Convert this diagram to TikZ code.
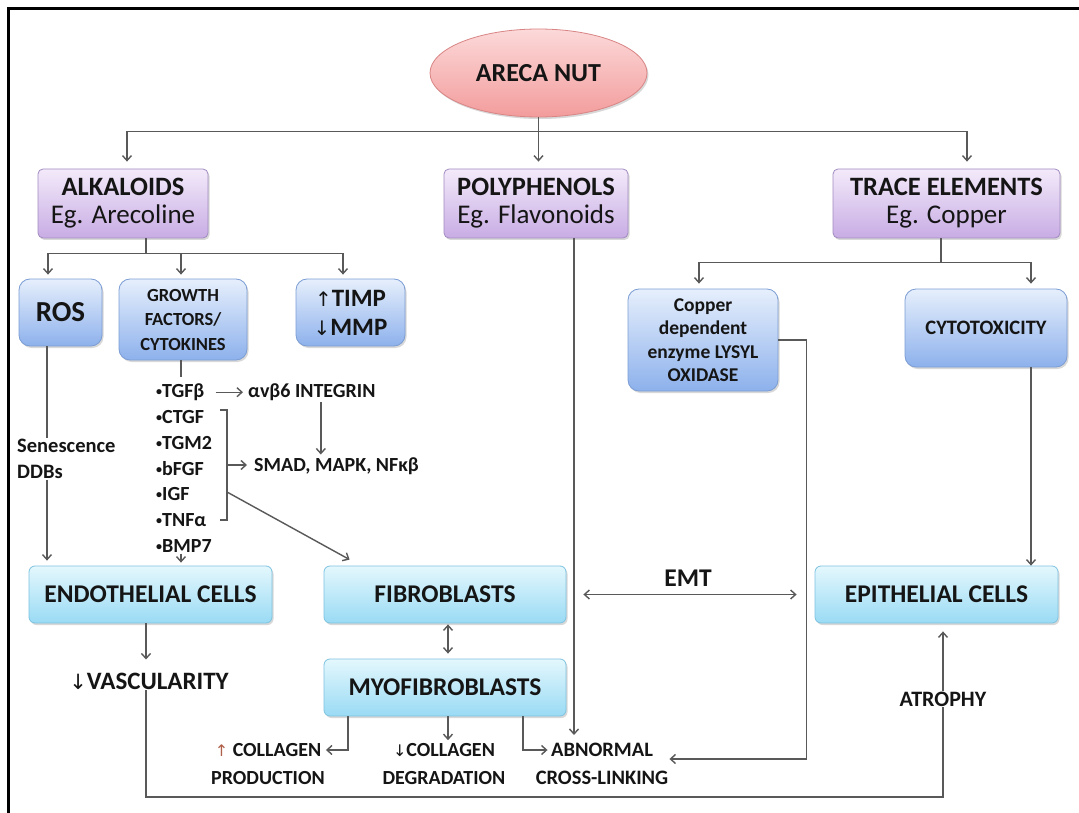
\documentclass[tikz,border=0pt]{standalone}
\usepackage{fontspec}
\setmainfont{Carlito}
\newfontfamily\arrowfont{DejaVu Sans}
\usetikzlibrary{arrows.meta,shapes.geometric,shadows,calc}
\newcommand{\fsz}[2]{\fontsize{#1}{#2}\selectfont}
\newcommand{\bul}{\raisebox{2pt}{\fsz{12}{20}•}}
\definecolor{linegray}{HTML}{595959}
\definecolor{textcol}{HTML}{151515}
\definecolor{nuttop}{HTML}{FCD9D9}
\definecolor{nutbot}{HTML}{F39C9C}
\definecolor{nutedge}{HTML}{D98585}
\definecolor{purpletop}{HTML}{F3EAFA}
\definecolor{purplebot}{HTML}{C8ACE4}
\definecolor{purpleedge}{HTML}{A28BC0}
\definecolor{bluetop}{HTML}{E6EFFC}
\definecolor{bluebot}{HTML}{8DB1EC}
\definecolor{blueedge}{HTML}{7C9DD4}
\definecolor{cyantop}{HTML}{E4F7FD}
\definecolor{cyanbot}{HTML}{99DBF4}
\definecolor{cyanedge}{HTML}{7FC3E0}
\definecolor{uparrowcol}{HTML}{B0604A}
\begin{document}
\begin{tikzpicture}[x=1pt,y=1pt,
  line/.style={draw=linegray, line width=1.4pt},
  arr/.style={line, -{Straight Barb[length=5pt,width=9pt]}},
  darr/.style={line, {Straight Barb[length=5pt,width=9pt]}-{Straight Barb[length=5pt,width=9pt]}},
  shade/.style={drop shadow={shadow xshift=1.5pt, shadow yshift=-2pt, opacity=0.25, fill=black!60}},
  purplebox/.style={shade, draw=purpleedge, line width=0.8pt, rounded corners=5pt,
    top color=purpletop, bottom color=purplebot, align=center, text=textcol, inner sep=0pt,
    font=\fsz{27}{28}},
  bluebox/.style={shade, draw=blueedge, line width=0.8pt, rounded corners=11pt,
    top color=bluetop, bottom color=bluebot, align=center, text=textcol, inner sep=0pt},
  cyanbox/.style={shade, draw=cyanedge, line width=0.8pt, rounded corners=6pt,
    top color=cyantop, bottom color=cyanbot, align=center, text=textcol, inner sep=0pt,
    font=\bfseries\fsz{25.5}{28}},
  lbl/.style={text=textcol, inner sep=1pt, align=center},
  item/.style={lbl, anchor=base west, font=\bfseries\fsz{20}{22}}
]
\useasboundingbox (0,0) rectangle (1079,-813);
\fill[white] (0,0) rectangle (1079,-813);
\draw[line width=3pt, black] (8,-813) -- (8,-9) -- (1079,-9);

% ---------- top level ----------
\node[ellipse, shade, draw=nutedge, line width=0.8pt, top color=nuttop, bottom color=nutbot,
  minimum width=217, minimum height=88, inner sep=0pt, font=\bfseries\fsz{26}{28}, text=textcol]
  (nut) at (538.5,-73) {ARECA NUT};
\node[purplebox, minimum width=170, minimum height=69] (alk) at (123,-203.5)
  {{\bfseries\fsz{26.5}{28}ALKALOIDS}\\Eg. Arecoline};
\node[purplebox, minimum width=184, minimum height=69] (poly) at (536,-203.5)
  {{\bfseries\fsz{26.5}{28}POLYPHENOLS}\\Eg. Flavonoids};
\node[purplebox, minimum width=227, minimum height=69] (trace) at (946.5,-203.5)
  {{\bfseries\fsz{26.5}{28}TRACE ELEMENTS}\\Eg. Copper};

% ---------- second level ----------
\node[bluebox, minimum width=83, minimum height=67, font=\bfseries\fsz{29}{28}] (ros) at (60.5,-312.5) {ROS};
\node[bluebox, minimum width=128, minimum height=81, font=\bfseries\fsz{18.5}{24.5}] (gf) at (183,-319.5)
  {GROWTH\\FACTORS/\\CYTOKINES};
\node[bluebox, minimum width=109, minimum height=67, font=\bfseries\fsz{25}{29}] (timp) at (350.5,-312.5)
  {{\arrowfont\mdseries\fsz{20}{29}↑}TIMP\\{\arrowfont\mdseries\fsz{20}{29}↓}MMP};
\node[bluebox, minimum width=150, minimum height=102, font=\bfseries\fsz{19.5}{23.5}] (lysyl) at (703,-340)
  {Copper\\dependent\\enzyme LYSYL\\OXIDASE};
\node[bluebox, minimum width=162, minimum height=78, font=\bfseries\fsz{20.5}{23}] (cyto) at (986,-328) {CYTOTOXICITY};

% ---------- cells ----------
\node[cyanbox, minimum width=243, minimum height=57] (endo) at (150.5,-594.5) {ENDOTHELIAL CELLS};
\node[cyanbox, minimum width=242, minimum height=57] (fibro) at (445,-594.5) {FIBROBLASTS};
\node[cyanbox, minimum width=243, minimum height=57] (epi) at (936.5,-594.5) {EPITHELIAL CELLS};
\node[cyanbox, minimum width=242, minimum height=57] (myo) at (445,-687.5) {MYOFIBROBLASTS};

% ---------- labels ----------
\node[lbl, anchor=west, align=left, font=\bfseries\fsz{20.5}{26}] (sen) at (16,-459) {Senescence\\DDBs};
\node[item] (l1) at (155,-397.5) {\bul TGFβ};
\node[item] (l2) at (155,-423.3) {\bul CTGF};
\node[item] (l3) at (155,-449.2) {\bul TGM2};
\node[item] (l4) at (155,-475.0) {\bul bFGF};
\node[item] (l5) at (155,-500.8) {\bul IGF};
\node[item] (l6) at (155,-526.7) {\bul TNFα};
\node[item] (l7) at (155,-552.5) {\bul BMP7};
\node[item] (integ) at (247,-397.5) {αvβ6 INTEGRIN};
\node[item] (smad) at (253,-471.5) {SMAD, MAPK, NFκβ};
\node[lbl, font=\bfseries\fsz{25}{28}] (vasc) at (149,-681) {{\arrowfont\mdseries\fsz{21}{28}↓}VASCULARITY};
\node[lbl, font=\bfseries\fsz{25.5}{28}] (emt) at (688,-578) {EMT};
\node[lbl, font=\bfseries\fsz{22}{26}] (atro) at (943,-699) {ATROPHY};
\node[lbl, font=\bfseries\fsz{20}{28}] (coll) at (268,-764)
  {{\arrowfont\mdseries\color{uparrowcol}\fsz{16}{28}↑} COLLAGEN\\PRODUCTION};
\node[lbl, font=\bfseries\fsz{20}{28}] (degr) at (444,-764)
  {{\arrowfont\mdseries\fsz{16}{28}↓}COLLAGEN\\DEGRADATION};
\node[lbl, font=\bfseries\fsz{20.5}{28}] (abn) at (602,-764) {ABNORMAL\\CROSS-LINKING};

% ---------- connectors: top ----------
\draw[line] (nut.south) -- ++(0,-14) coordinate (nj);
\draw[arr, shorten >=7pt] (nj) -| ([xshift=4pt]alk.north);
\draw[arr, shorten >=7pt] (nj) -- (nj |- poly.north);
\draw[arr, shorten >=7pt] (nj) -| ([xshift=20.5pt]trace.north);

% alkaloids fan
\draw[line] ([xshift=23pt]alk.south) -- ++(0,-15) coordinate (aj);
\draw[arr, shorten >=4pt] (aj) -| ([xshift=-12.5pt]ros.north);
\draw[arr, shorten >=4pt] (aj) -| ([xshift=-2pt]gf.north);
\draw[arr, shorten >=4pt] (aj) -| ([xshift=-7.5pt]timp.north);

% trace elements fan
\draw[line] ([xshift=-5.5pt]trace.south) -- ++(0,-24) coordinate (tj);
\draw[arr, shorten >=5pt] (tj) -| ([xshift=-4pt]lysyl.north);
\draw[arr, shorten >=5pt] (tj) -| ([xshift=45pt]cyto.north);

% ROS -> endothelial
\coordinate (rc) at ([xshift=-13.5pt]ros.south);
\draw[line] (rc) -- (rc |- sen.north);
\draw[arr, shorten >=5pt] (rc |- sen.south) -- (rc |- endo.north);

% growth factors list
\coordinate (gc) at ([xshift=-2pt]gf.south);
\draw[line] (gc) -- ++(0,-17);
\draw[arr, shorten >=3pt] (gc |- l7.south) -- (gc |- endo.north);
\draw[arr, shorten <=10pt, shorten >=4pt] (l1.east) -- (l1.east -| integ.west);
\draw[arr, shorten >=2pt] ([xshift=9pt]integ.south) -- ([xshift=9pt]integ.south |- smad.north);
\draw[line] (220,-410) -| (227,-520) -- (220,-520);
\coordinate (bmid) at (227,-465);
\coordinate (bdiag) at (227,-492);
\draw[arr, shorten >=6pt] (bmid) -- (smad.west |- bmid);
\draw[arr] (bdiag) -- ([shift={(26pt,6pt)}]fibro.north west);

% endothelial -> vascularity -> atrophy -> epithelial
\coordinate (vc) at ([xshift=-4.5pt]endo.south);
\coordinate (bot) at (0,-797);
\draw[arr, shorten >=12pt] (vc) -- (vc |- vasc.north);
\draw[line] (vc |- vasc.south) -- (vc |- bot) -| (atro.south);
\draw[arr, shorten >=8pt] (atro.north) -- (atro.north |- epi.south);

% cytotoxicity -> epithelial
\draw[arr] ([xshift=45pt]cyto.south) -- ([xshift=45pt]cyto.south |- epi.north);

% fibroblasts <-> myofibroblasts, EMT
\draw[darr, shorten <=1pt, shorten >=5pt] ([xshift=3pt]fibro.south) -- ([xshift=3pt]myo.north);
\draw[darr] ([xshift=17pt]fibro.east) -- ([xshift=-18pt]epi.west);

% myofibroblasts outputs
\draw[arr] ([xshift=-97pt]myo.south) |- ([yshift=14pt]coll.east);
\draw[arr, shorten >=2pt] ([xshift=3pt]myo.south) -- ([xshift=3pt]myo.south |- degr.north);
\draw[arr] ([xshift=78pt]myo.south) |- ([shift={(13pt,14pt)}]abn.west);

% polyphenols and lysyl oxidase -> cross-linking
\draw[arr, shorten >=7pt] ([xshift=38pt]poly.south) -- ([xshift=38pt]poly.south |- abn.north);
\draw[arr] (lysyl.east) -- ++(28,0) |- ([yshift=5pt]abn.east);
\end{tikzpicture}
\end{document}
